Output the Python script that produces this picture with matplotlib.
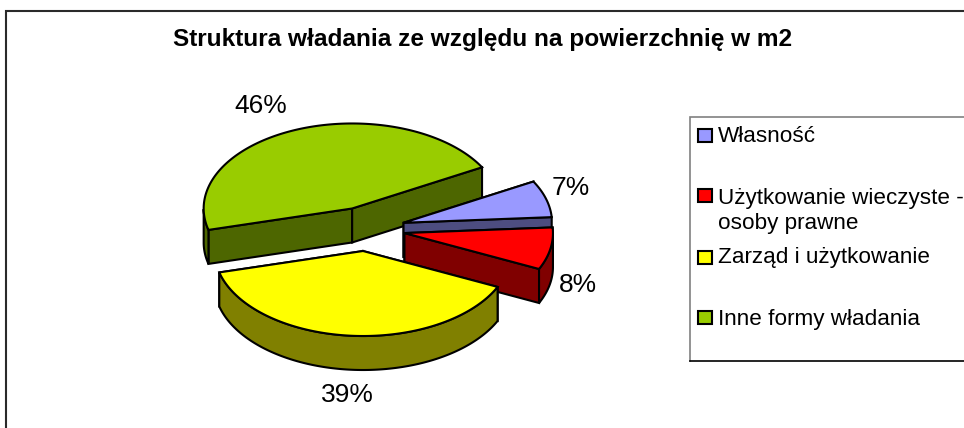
"""Struktura wladania: exploded 3-D style pie, drawn as projected polygons."""

import matplotlib

matplotlib.use("Agg")
import matplotlib.pyplot as plt
import numpy as np
from matplotlib.patches import Polygon

plt.rcParams["font.family"] = ["Liberation Sans", "DejaVu Sans"]

TITLE = "Struktura władania ze względu na powierzchnię w m2"
LABELS = ["Własność", "Użytkowanie wieczyste -\nosoby prawne",
          "Zarząd i użytkowanie", "Inne formy władania"]
VALUES = [7, 8, 39, 46]
TOP_COLORS = ["#9999FF", "#FF0000", "#FFFF00", "#99CC00"]
SIDE_COLORS = ["#4D4D80", "#800000", "#808000", "#4D6600"]

# layout, in image pixels
CX, CY = 366.5, 229.0
RX, RY = 148.5, 85.0
DEPTH = 34.0
EXPLODE = 0.26
START = 29.0
LABEL_XY = [(571, 188), (578, 285), (347, 395), (261, 106)]
SWATCH_Y = [135, 195.5, 257, 317.5]
TEXT_Y = [136, 211, 258, 319]
LW = 1.5


def wedge(ax, start, sweep, top, side, z):
    mid = np.radians(start - sweep / 2)
    cx = CX + EXPLODE * RX * np.cos(mid)
    cy = CY - EXPLODE * RY * np.sin(mid)
    t = np.radians(np.linspace(start, start - sweep, 200))
    x = cx + RX * np.cos(t)
    y = cy - RY * np.sin(t)
    style = dict(edgecolor="black", lw=LW, joinstyle="miter", zorder=z)

    # cut faces first, the rim and the top paint over whatever is hidden
    for i in (0, -1):
        ax.add_patch(Polygon([(cx, cy), (x[i], y[i]), (x[i], y[i] + DEPTH), (cx, cy + DEPTH)],
                             facecolor=side, **style))
    front = np.sin(t) <= 0
    if front.sum() > 1:
        xf, yf = x[front], y[front]
        ax.add_patch(Polygon(np.r_[np.c_[xf, yf], np.c_[xf, yf + DEPTH][::-1]],
                             facecolor=side, **style))
    ax.add_patch(Polygon(np.r_[[(cx, cy)], np.c_[x, y]], facecolor=top, **style))


def main():
    fig = plt.figure(figsize=(9.64, 4.28), dpi=100, facecolor="white")
    ax = fig.add_axes([0, 0, 1, 1])
    ax.set_xlim(0, 964)
    ax.set_ylim(428, 0)
    ax.axis("off")

    # chart frame runs off the right and bottom of the crop
    ax.plot([6, 6, 964], [428, 11, 11], color="#2A2A2A", lw=1.5, solid_joinstyle="miter")
    ax.text(482.5, 39, TITLE, fontsize=17.6, fontweight="bold", ha="center", va="center")

    # paint back to front: green, blue, red, yellow
    total = sum(VALUES)
    sweeps = [v / total * 360 for v in VALUES]
    starts = START - np.r_[0, np.cumsum(sweeps)[:-1]]
    for z, i in enumerate([3, 0, 1, 2]):
        wedge(ax, starts[i], sweeps[i], TOP_COLORS[i], SIDE_COLORS[i], 2 + z)

    for v, (x, y) in zip(VALUES, LABEL_XY):
        ax.text(x, y, f"{v}%", fontsize=19, ha="center", va="center", zorder=10)

    # legend box, open on the right like the crop
    ax.plot([964, 690, 690], [117, 117, 361], color="#808080", lw=1.2, solid_joinstyle="miter")
    ax.plot([690, 964], [361, 361], color="black", lw=1.2)
    for lab, col, sy, ty in zip(LABELS, TOP_COLORS, SWATCH_Y, TEXT_Y):
        ax.add_patch(plt.Rectangle((698, sy - 6.5), 14, 13, facecolor=col, edgecolor="black", lw=1.5))
        ax.text(718, ty, lab, fontsize=16.2, ha="left", va="center", linespacing=1.22)

    fig.savefig("out.png", dpi=100, facecolor="white")
    plt.close(fig)


if __name__ == "__main__":
    main()
